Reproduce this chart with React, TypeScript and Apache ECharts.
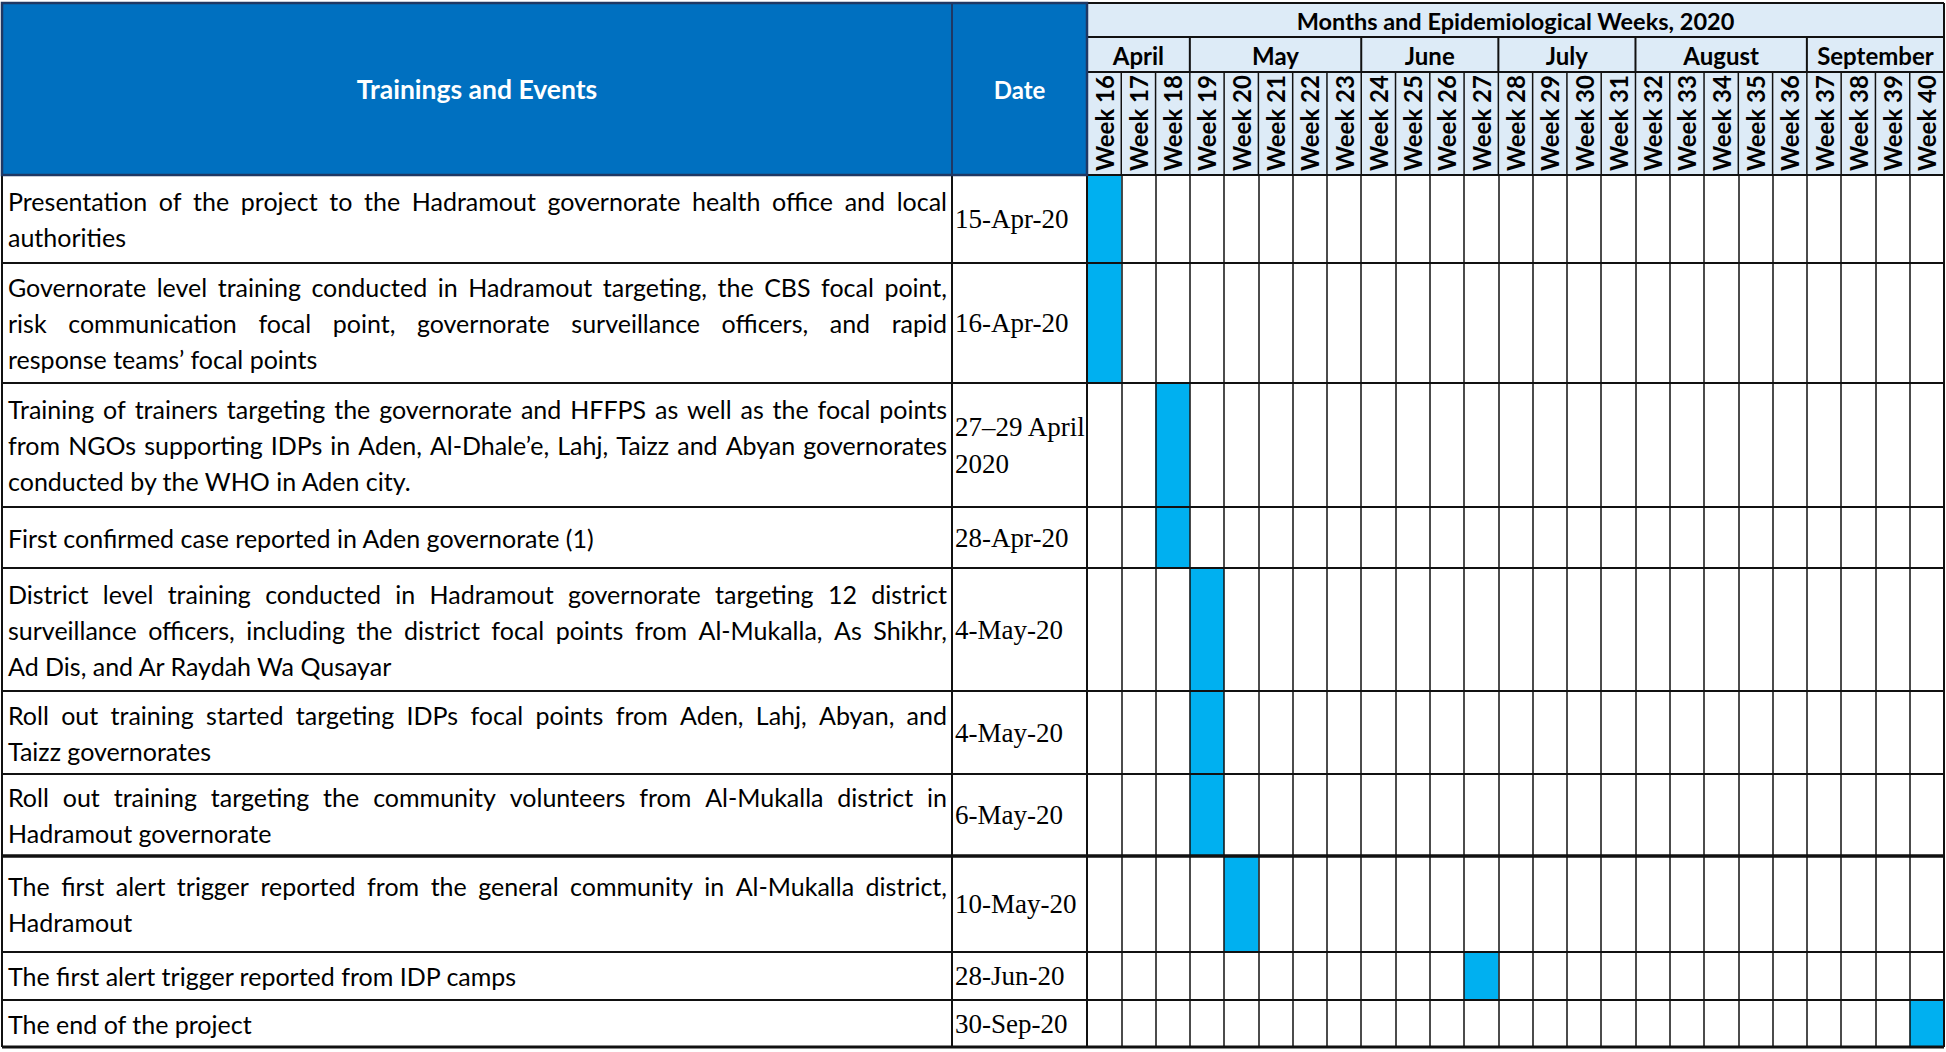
import React, { useEffect, useRef } from "react";
import * as echarts from "echarts";

// ---------------- DATA ----------------
const tableTitle = "Months and Epidemiological Weeks, 2020";
const columnHeaders = ["Trainings and Events", "Date"];
const months = ["April", "May", "June", "July", "August", "September"];
const monthWeekCounts = [3, 5, 4, 4, 5, 4];
const weekLabels = [
  "Week 16", "Week 17", "Week 18", "Week 19", "Week 20", "Week 21", "Week 22",
  "Week 23", "Week 24", "Week 25", "Week 26", "Week 27", "Week 28", "Week 29",
  "Week 30", "Week 31", "Week 32", "Week 33", "Week 34", "Week 35", "Week 36",
  "Week 37", "Week 38", "Week 39", "Week 40",
];
const eventLines: string[][] = [
  ["Presentation of the project to the Hadramout governorate health office and local", "authorities"],
  ["Governorate level training conducted in Hadramout targeting, the CBS focal point,", "risk communication focal point, governorate surveillance officers, and rapid", "response teams’ focal points"],
  ["Training of trainers targeting the governorate and HFFPS as well as the focal points", "from NGOs supporting IDPs in Aden, Al-Dhale’e, Lahj, Taizz and Abyan governorates", "conducted by the WHO in Aden city."],
  ["First confirmed case reported in Aden governorate (1)"],
  ["District level training conducted in Hadramout governorate targeting 12 district", "surveillance officers, including the district focal points from Al-Mukalla, As Shikhr,", "Ad Dis, and Ar Raydah Wa Qusayar"],
  ["Roll out training started targeting IDPs focal points from Aden, Lahj, Abyan, and", "Taizz governorates"],
  ["Roll out training targeting the community volunteers from Al-Mukalla district in", "Hadramout governorate"],
  ["The first alert trigger reported from the general community in Al-Mukalla district,", "Hadramout"],
  ["The first alert trigger reported from IDP camps"],
  ["The end of the project"],
];
const eventDates: string[][] = [
  ["15-Apr-20"], ["16-Apr-20"], ["27–29 April", "2020"], ["28-Apr-20"], ["4-May-20"],
  ["4-May-20"], ["6-May-20"], ["10-May-20"], ["28-Jun-20"], ["30-Sep-20"],
];
const eventWeeks = [
  "Week 16", "Week 16", "Week 18", "Week 18", "Week 19",
  "Week 19", "Week 19", "Week 20", "Week 27", "Week 40",
];

// ---------------- LAYOUT ----------------
const W = 1946, H = 1052;
const L = 2, R = 1944, T = 3;
const TEXT_R = 952, DATE_R = 1087;
const HEAD1 = 37, HEAD2 = 72, HB = 175;
const rowHeights = [88, 120, 124, 61, 123, 83, 82, 96, 48, 47];
const LINE_H = 36;
const BODY_FONT = "Lato";
const BODY_SIZE = 25;
const DATE_FONT = "'Liberation Serif', 'Times New Roman', serif";
const DATE_SIZE = 27;
const HEADER_BLUE = "#0070C0";
const HEADER_LIGHT = "#DDEBF7";
const BAR_BLUE = "#00B0F0";

const rowTops: number[] = [];
{
  let acc = 0;
  rowHeights.forEach((h) => { rowTops.push(acc); acc += h; });
}
const bodyH = rowHeights.reduce((a, b) => a + b, 0);
const B = HB + bodyH;
const colW = (R - DATE_R) / weekLabels.length;

function textEl(text: string, x: number, y: number, opts: any = {}) {
  return {
    type: "text",
    x, y, z: 20, silent: true,
    style: {
      text,
      fill: opts.fill || "#000",
      fontSize: opts.fontSize || BODY_SIZE,
      fontFamily: opts.fontFamily || BODY_FONT,
      fontWeight: opts.fontWeight || "normal",
      align: opts.align || "left",
      textAlign: opts.align || "left",
      verticalAlign: "middle",
      textVerticalAlign: "middle",
    },
  };
}

function lineEl(x1: number, y1: number, x2: number, y2: number, w = 2, color = "#111") {
  return {
    type: "line", z: 15, silent: true,
    shape: { x1, y1, x2, y2 },
    style: { stroke: color, lineWidth: w },
  };
}

function buildGraphics() {
  const els: any[] = [];
  const canvas = document.createElement("canvas");
  const ctx = canvas.getContext("2d")!;
  ctx.font = `${BODY_SIZE}px ${BODY_FONT}`;
  const m = (s: string) => ctx.measureText(s).width;

  // header backgrounds
  els.push({ type: "rect", z: 0, silent: true, shape: { x: L, y: T, width: DATE_R - L, height: HB - T }, style: { fill: HEADER_BLUE } });
  els.push({ type: "rect", z: 0, silent: true, shape: { x: DATE_R, y: T, width: R - DATE_R, height: HB - T }, style: { fill: HEADER_LIGHT } });

  // header texts
  const hy = (T + HB) / 2;
  els.push(textEl(columnHeaders[0], (L + TEXT_R) / 2, hy, { fill: "#fff", fontWeight: "bold", fontSize: 26.5, align: "center" }));
  els.push(textEl(columnHeaders[1], (TEXT_R + DATE_R) / 2, hy, { fill: "#fff", fontWeight: "bold", fontSize: 24, align: "center" }));
  els.push(textEl(tableTitle, (DATE_R + R) / 2, (T + HEAD1) / 2 + 1, { fontWeight: "bold", fontSize: 23.5, align: "center" }));

  // months
  let wi = 0;
  months.forEach((mo, i) => {
    const x0 = DATE_R + wi * colW;
    const x1 = DATE_R + (wi + monthWeekCounts[i]) * colW;
    els.push(textEl(mo, (x0 + x1) / 2, (HEAD1 + HEAD2) / 2 + 1, { fontWeight: "bold", fontSize: 24, align: "center" }));
    if (i > 0) els.push(lineEl(x0, HEAD1, x0, HEAD2, 2));
    wi += monthWeekCounts[i];
  });
  // week header verticals
  for (let k = 1; k < weekLabels.length; k++) {
    const x = DATE_R + k * colW;
    els.push(lineEl(x, HEAD2, x, HB, 1.5));
  }

  // body text
  const textX = L + 6;
  const textW = TEXT_R - 5 - textX;
  eventLines.forEach((lines, r) => {
    const cy = HB + rowTops[r] + rowHeights[r] / 2;
    lines.forEach((ln, j) => {
      const y = cy + (j - (lines.length - 1) / 2) * LINE_H;
      const justify = j < lines.length - 1;
      if (!justify) {
        els.push(textEl(ln, textX, y));
      } else {
        const words = ln.split(" ");
        const total = words.reduce((a, w) => a + m(w), 0);
        const gap = (textW - total) / (words.length - 1);
        let cx = textX;
        words.forEach((w) => {
          els.push(textEl(w, cx, y));
          cx += m(w) + gap;
        });
      }
    });
    const dl = eventDates[r];
    dl.forEach((d, j) => {
      const y = cy + (j - (dl.length - 1) / 2) * 37;
      els.push(textEl(d, TEXT_R + 3, y, { fontFamily: DATE_FONT, fontSize: DATE_SIZE }));
    });
  });

  // horizontal lines
  els.push(lineEl(DATE_R, HEAD1, R, HEAD1, 2));
  els.push(lineEl(DATE_R, HEAD2, R, HEAD2, 2));
  els.push(lineEl(L, HB, R, HB, 2));
  rowTops.forEach((t, r) => {
    if (r === 0) return;
    els.push(lineEl(L, HB + t, R, HB + t, r === 7 ? 3.5 : 2));
  });
  els.push(lineEl(L, B, R, B, 3));
  els.push(lineEl(DATE_R, T, R, T, 2));
  // verticals
  els.push(lineEl(L, HB, L, B, 2));
  els.push(lineEl(TEXT_R, HB, TEXT_R, B, 2));
  els.push(lineEl(DATE_R, HB, DATE_R, B, 2));
  els.push(lineEl(R, T, R, B, 2));
  // blue header border
  els.push({ type: "rect", z: 16, silent: true, shape: { x: L, y: T, width: DATE_R - L, height: HB - T }, style: { fill: "none", stroke: "#1F3864", lineWidth: 2.5 } });
  els.push(lineEl(TEXT_R, T, TEXT_R, HB, 2, "#1F3864"));
  return els;
}

function buildOption() {
  return {
    animation: false,
    backgroundColor: "#fff",
    grid: { left: DATE_R, right: W - R, top: HB, bottom: H - B, containLabel: false },
    xAxis: {
      type: "category",
      data: weekLabels,
      position: "top",
      boundaryGap: true,
      z: 5,
      axisLine: { show: false },
      axisTick: { show: false },
      axisLabel: {
        interval: 0,
        rotate: 90,
        margin: 4,
        fontSize: 24,
        fontWeight: "bold",
        fontFamily: BODY_FONT,
        color: "#000",
      },
      splitLine: { show: true, interval: 0, lineStyle: { color: "#111", width: 1.5 } },
    },
    yAxis: { type: "value", inverse: true, min: 0, max: bodyH, show: false },
    series: [
      {
        type: "custom",
        z: 2,
        encode: { x: 0, y: 1 },
        data: eventWeeks.map((w, i) => [w, i]),
        renderItem: (params: any, api: any) => {
          const idx = api.value(0);
          const row = api.value(1);
          const c = api.coord([idx, 0]);
          const bw = api.size([1, 0])[0];
          const yTop = api.coord([idx, rowTops[row]])[1];
          const yBot = api.coord([idx, rowTops[row] + rowHeights[row]])[1];
          return {
            type: "rect",
            shape: { x: c[0] - bw / 2, y: yTop, width: bw, height: yBot - yTop },
            style: { fill: BAR_BLUE },
          };
        },
      },
    ],
    graphic: { elements: buildGraphics() },
  };
}

export default function App() {
  const ref = useRef<HTMLDivElement>(null);
  useEffect(() => {
    const chart = echarts.init(ref.current!, null, { renderer: "svg" });
    chart.setOption(buildOption() as any);
    return () => chart.dispose();
  }, []);
  return (
    <div
      ref={ref}
      style={{ position: "fixed", left: 0, top: 0, width: W, height: H, background: "#fff" }}
    />
  );
}
